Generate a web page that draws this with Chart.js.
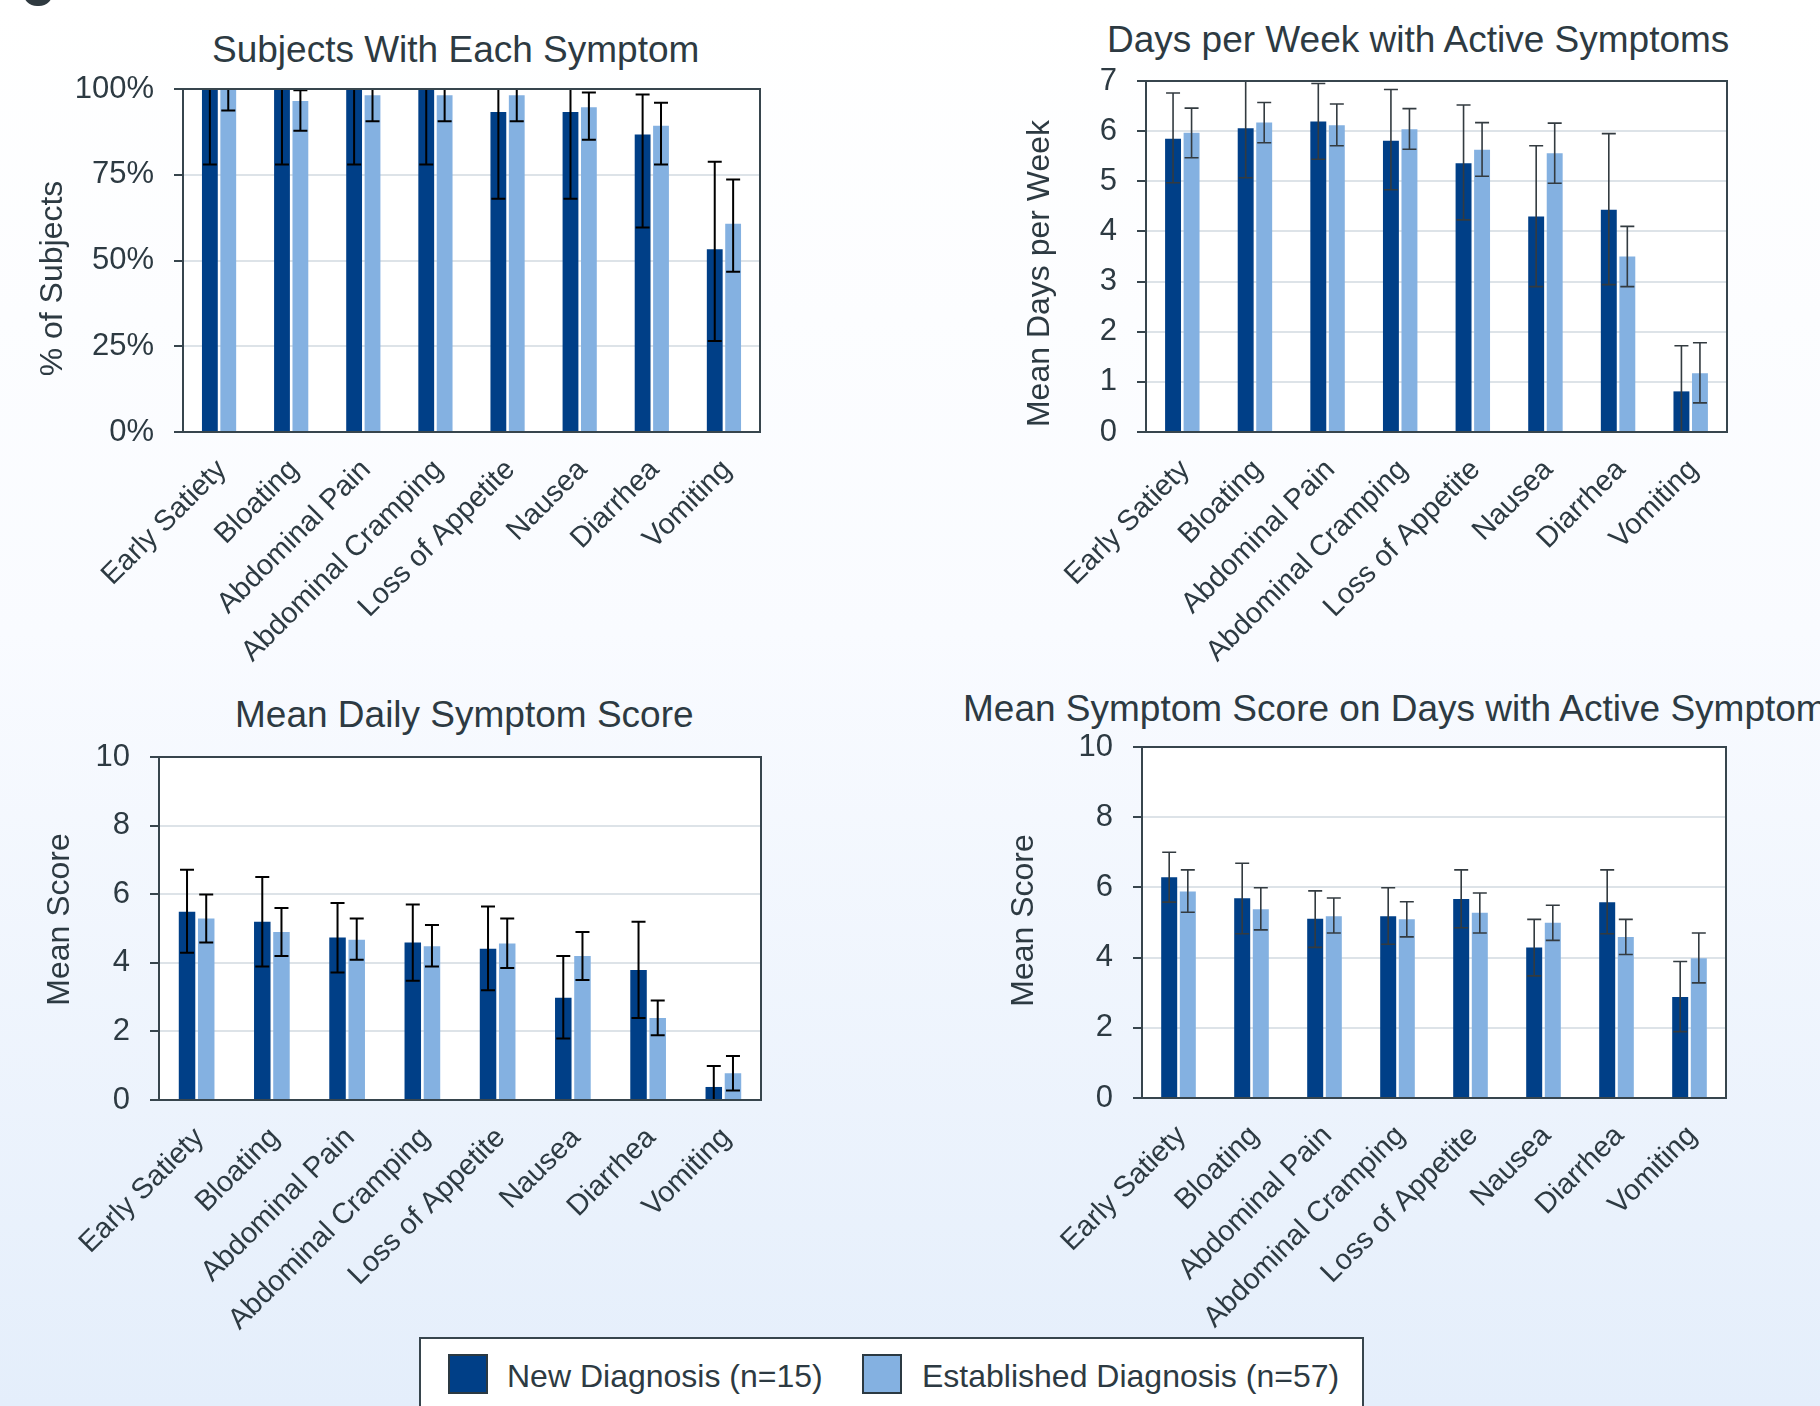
<!DOCTYPE html>
<html>
<head>
<meta charset="utf-8">
<title>Symptom burden by diagnosis group</title>
<script src="https://cdn.jsdelivr.net/npm/chart.js@4.4.1/dist/chart.umd.min.js"></script>
<style>
  body {
    margin: 0;
    width: 1820px;
    height: 1406px;
    overflow: hidden;
    position: relative;
    background: linear-gradient(180deg, #ffffff 0%, #f9fbff 45%, #e4eefb 100%);
    font-family: "Liberation Sans", Arial, sans-serif;
    color: #2d3a42;
  }
  canvas { position: absolute; }
  .title { position: absolute; font-size: 37px; line-height: 37px; white-space: nowrap; }
  .mark { position: absolute; left: 23px; top: -22px; width: 30px; height: 28px; border-radius: 14px; background: #2f3a40; }
  #legend {
    position: absolute; left: 419px; top: 1337px; width: 945px; height: 100px;
    box-sizing: border-box; border: 2px solid #37454d; background: #fff;
  }
  #legend .sw { position: absolute; top: 15px; width: 40px; height: 40px; box-sizing: border-box; border: 2px solid #2b3942; }
  #legend .lb { position: absolute; top: 21px; font-size: 32px; line-height: 32px; white-space: nowrap; }
</style>
</head>
<body>
<div class="mark"></div>

<div class="title" style="left:212px; top:31px">Subjects With Each Symptom</div>
<div class="title" style="left:1107px; top:21px">Days per Week with Active Symptoms</div>
<div class="title" style="left:235px; top:696px">Mean Daily Symptom Score</div>
<div class="title" style="left:963px; top:690px">Mean Symptom Score on Days with Active Symptoms</div>

<canvas id="c1" width="775" height="680" style="left:0px; top:0px"></canvas>
<canvas id="c2" width="792" height="680" style="left:950px; top:0px"></canvas>
<canvas id="c3" width="776" height="660" style="left:0px; top:680px"></canvas>
<canvas id="c4" width="791" height="660" style="left:950px; top:680px"></canvas>

<div id="legend"></div>

<script>
const symptoms = ["Early Satiety", "Bloating", "Abdominal Pain", "Abdominal Cramping",
                  "Loss of Appetite", "Nausea", "Diarrhea", "Vomiting"];
const groups = ["New Diagnosis (n=15)", "Established Diagnosis (n=57)"];
const colors = ["#003f87", "#84b1e1"];

// % of subjects with each symptom
const pctNew   = [100, 100, 100, 100, 93.3, 93.3, 86.7, 53.3];
const pctNewLo = [78, 78, 78, 78, 68, 68, 59.6, 26.5];
const pctNewHi = [100, 100, 100, 100, 100, 100, 98.4, 78.8];
const pctEst   = [100, 96.5, 98.2, 98.2, 98.2, 94.7, 89.3, 60.7];
const pctEstLo = [93.7, 87.8, 90.6, 90.6, 90.6, 85.2, 78, 46.7];
const pctEstHi = [100, 99.6, 100, 100, 100, 99, 96, 73.6];

// mean days per week with active symptoms
const daysNew   = [5.85, 6.06, 6.19, 5.81, 5.36, 4.30, 4.43, 0.81];
const daysNewLo = [4.97, 5.07, 5.44, 4.83, 4.23, 2.90, 2.94, -0.1];
const daysNewHi = [6.76, 7.1, 6.95, 6.83, 6.52, 5.71, 5.95, 1.72];
const daysEst   = [5.97, 6.17, 6.12, 6.04, 5.63, 5.56, 3.50, 1.17];
const daysEstLo = [5.47, 5.77, 5.71, 5.64, 5.10, 4.96, 2.90, 0.58];
const daysEstHi = [6.46, 6.57, 6.54, 6.45, 6.17, 6.16, 4.10, 1.78];

// mean daily symptom score
const dailyNew   = [5.49, 5.20, 4.74, 4.59, 4.41, 2.98, 3.79, 0.38];
const dailyNewLo = [4.29, 3.89, 3.72, 3.48, 3.20, 1.79, 2.39, -0.23];
const dailyNewHi = [6.71, 6.50, 5.74, 5.70, 5.64, 4.20, 5.20, 0.99];
const dailyEst   = [5.29, 4.90, 4.67, 4.48, 4.56, 4.20, 2.39, 0.78];
const dailyEstLo = [4.59, 4.20, 4.09, 3.89, 3.85, 3.50, 1.89, 0.28];
const dailyEstHi = [5.99, 5.60, 5.29, 5.10, 5.29, 4.90, 2.90, 1.28];

// mean score on days with active symptoms
const activeNew   = [6.29, 5.69, 5.11, 5.18, 5.67, 4.29, 5.58, 2.88];
const activeNewLo = [5.58, 4.68, 4.29, 4.38, 4.85, 3.48, 4.68, 1.89];
const activeNewHi = [7.00, 6.69, 5.90, 5.99, 6.50, 5.09, 6.50, 3.89];
const activeEst   = [5.88, 5.38, 5.18, 5.09, 5.28, 4.99, 4.59, 3.98];
const activeEstLo = [5.29, 4.79, 4.70, 4.59, 4.70, 4.49, 4.09, 3.28];
const activeEstHi = [6.50, 5.99, 5.70, 5.59, 5.84, 5.49, 5.09, 4.70];

const textColor = "#2d3a42";
const axisColor = "#37454d";
const font = "'Liberation Sans', Arial, sans-serif";

// white plot background + dark frame round the plot
const plotFrame = {
  id: "plotFrame",
  beforeDraw(chart) {
    const a = chart.chartArea, ctx = chart.ctx;
    ctx.save();
    ctx.fillStyle = "#fff";
    ctx.fillRect(a.left, a.top, a.right - a.left, a.bottom - a.top);
    ctx.restore();
  },
  afterDraw(chart) {
    const a = chart.chartArea, ctx = chart.ctx;
    ctx.save();
    ctx.strokeStyle = axisColor;
    ctx.lineWidth = 2;
    ctx.strokeRect(a.left, a.top, a.right - a.left, a.bottom - a.top);
    ctx.restore();
  }
};

// error bars from the lo/hi arrays on each dataset
const errorBars = {
  id: "errorBars",
  afterDatasetsDraw(chart, args, opts) {
    const ctx = chart.ctx, y = chart.scales.y, a = chart.chartArea;
    ctx.save();
    ctx.beginPath();
    ctx.rect(a.left, a.top - 1, a.right - a.left, a.bottom - a.top + 1);
    ctx.clip();
    ctx.strokeStyle = opts.color;
    ctx.lineWidth = opts.width;
    chart.data.datasets.forEach((ds, i) => {
      chart.getDatasetMeta(i).data.forEach((bar, j) => {
        const top = y.getPixelForValue(ds.hi[j]);
        const bot = y.getPixelForValue(ds.lo[j]);
        ctx.beginPath();
        ctx.moveTo(bar.x, top); ctx.lineTo(bar.x, bot);
        ctx.moveTo(bar.x - opts.cap, top); ctx.lineTo(bar.x + opts.cap, top);
        ctx.moveTo(bar.x - opts.cap, bot); ctx.lineTo(bar.x + opts.cap, bot);
        ctx.stroke();
      });
    });
    ctx.restore();
  }
};

// vertical axis title, nudged along the axis like the original layout
const yTitle = {
  id: "yTitle",
  afterDraw(chart, args, o) {
    const a = chart.chartArea, ctx = chart.ctx;
    ctx.save();
    ctx.translate(o.x, (a.top + a.bottom) / 2 + o.shift);
    ctx.rotate(-Math.PI / 2);
    ctx.font = "32px " + font;
    ctx.fillStyle = textColor;
    ctx.textAlign = "center";
    ctx.textBaseline = "middle";
    ctx.fillText(o.text, 0, 0);
    ctx.restore();
  }
};

function makeChart(id, s) {
  return new Chart(document.getElementById(id), {
    type: "bar",
    data: {
      labels: symptoms,
      datasets: [
        { label: groups[0], data: s.vals[0], lo: s.lo[0], hi: s.hi[0], backgroundColor: colors[0] },
        { label: groups[1], data: s.vals[1], lo: s.lo[1], hi: s.hi[1], backgroundColor: colors[1] }
      ]
    },
    options: {
      responsive: false,
      animation: false,
      categoryPercentage: 0.51,
      barPercentage: 0.86,
      layout: { padding: { top: s.padTop, right: 15, left: 0, bottom: 0 } },
      plugins: {
        legend: { display: false },
        tooltip: { enabled: false },
        errorBars: { color: s.errColor, width: s.errWidth, cap: 7 },
        yTitle: { text: s.yTitle, x: s.titleX, shift: s.titleShift }
      },
      scales: {
        x: {
          grid: { display: false, drawTicks: false },
          border: { display: false },
          ticks: {
            autoSkip: false, maxRotation: 45, minRotation: 45,
            padding: 21, labelOffset: 3,
            color: textColor, font: { family: font, size: 29 }
          },
          afterFit: sc => { sc.height = s.xHeight; }
        },
        y: {
          min: 0, max: s.max,
          grid: { color: "#dde3e8", lineWidth: 2, tickColor: axisColor, tickLength: 9 },
          border: { display: false },
          ticks: {
            stepSize: s.step, padding: 20,
            color: textColor, font: { family: font, size: 31 },
            callback: s.fmt
          },
          afterFit: sc => { sc.width = s.yWidth; }
        }
      }
    },
    plugins: [plotFrame, errorBars, yTitle]
  });
}

makeChart("c1", {
  vals: [pctNew, pctEst], lo: [pctNewLo, pctEstLo], hi: [pctNewHi, pctEstHi],
  max: 100, step: 25, fmt: v => v + "%", yTitle: "% of Subjects",
  padTop: 89, yWidth: 183, xHeight: 248, titleX: 53, titleShift: 18,
  errColor: "#000", errWidth: 2
});
makeChart("c2", {
  vals: [daysNew, daysEst], lo: [daysNewLo, daysEstLo], hi: [daysNewHi, daysEstHi],
  max: 7, step: 1, fmt: v => v, yTitle: "Mean Days per Week",
  padTop: 81, yWidth: 196, xHeight: 248, titleX: 90, titleShift: 17,
  errColor: "#333b40", errWidth: 1.6
});
makeChart("c3", {
  vals: [dailyNew, dailyEst], lo: [dailyNewLo, dailyEstLo], hi: [dailyNewHi, dailyEstHi],
  max: 10, step: 2, fmt: v => v, yTitle: "Mean Score",
  padTop: 77, yWidth: 159, xHeight: 240, titleX: 60, titleShift: -9,
  errColor: "#000", errWidth: 2
});
makeChart("c4", {
  vals: [activeNew, activeEst], lo: [activeNewLo, activeEstLo], hi: [activeNewHi, activeEstHi],
  max: 10, step: 2, fmt: v => v, yTitle: "Mean Score",
  padTop: 67, yWidth: 192, xHeight: 242, titleX: 74, titleShift: -2,
  errColor: "#333b40", errWidth: 1.6
});

// shared legend under the four panels
const legend = document.getElementById("legend");
const swatchX = [27, 441];
const labelX = [86, 501];
groups.forEach((g, i) => {
  const sw = document.createElement("div");
  sw.className = "sw";
  sw.style.left = swatchX[i] + "px";
  sw.style.background = colors[i];
  legend.appendChild(sw);
  const lb = document.createElement("div");
  lb.className = "lb";
  lb.style.left = labelX[i] + "px";
  lb.textContent = g;
  legend.appendChild(lb);
});
</script>
</body>
</html>
